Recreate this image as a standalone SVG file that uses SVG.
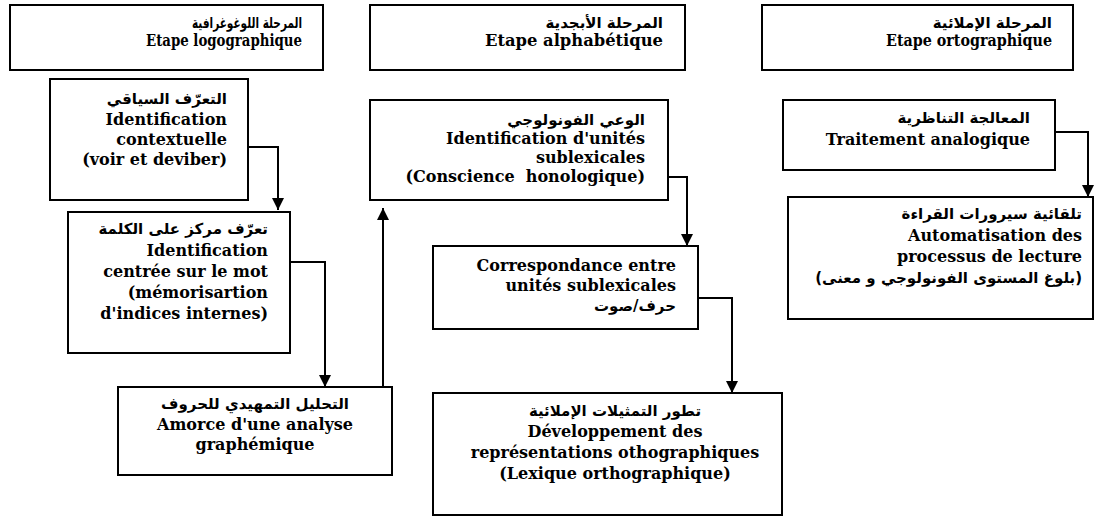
<svg xmlns="http://www.w3.org/2000/svg" width="1098" height="520" viewBox="0 0 1098 520">
<style>
.box{fill:#fff;stroke:#000;stroke-width:2}
.hd{font-family:"DejaVu Serif","Liberation Serif",serif;font-weight:bold;font-size:16px;fill:#000}
.tx{font-family:"DejaVu Serif","Liberation Serif",serif;font-weight:bold;font-size:16px;fill:#000}
.ar{font-family:"DejaVu Sans","Noto Sans",sans-serif;font-weight:bold;font-size:15px;fill:#000}
.e{text-anchor:end}
.m{text-anchor:middle}
.conn{fill:none;stroke:#000;stroke-width:2}
</style>
<defs>
<marker id="ah" markerUnits="userSpaceOnUse" markerWidth="12" markerHeight="12" refX="12" refY="6" orient="auto">
<path d="M0,0 L12,6 L0,12 z" fill="#000"/>
</marker>
</defs>
<rect width="1098" height="520" fill="#fff"/>

<g id="header-logo">
<rect class="box" x="10" y="5" width="313" height="65"/>
<text class="ar e" x="302" y="28" textLength="110" lengthAdjust="spacingAndGlyphs">المرحلة اللوغوغرافية</text>
<text class="hd e" x="302" y="46" textLength="156" lengthAdjust="spacingAndGlyphs">Etape logographique</text>
</g>
<g id="header-alpha">
<rect class="box" x="370" y="5" width="315" height="65"/>
<text class="ar e" x="663" y="28">المرحلة الأبجدية</text>
<text class="hd e" x="663" y="46" textLength="178" lengthAdjust="spacingAndGlyphs">Etape alphabétique</text>
</g>
<g id="header-ortho">
<rect class="box" x="762" y="5" width="311" height="65"/>
<text class="ar e" x="1052" y="28">المرحلة الإملائية</text>
<text class="hd e" x="1052" y="46" textLength="166" lengthAdjust="spacingAndGlyphs">Etape ortographique</text>
</g>

<g id="node-contextuelle">
<rect class="box" x="50" y="79" width="198" height="121"/>
<text class="ar e" x="227" y="104">التعرّف السياقي</text>
<text class="tx e" x="227" y="125">Identification</text>
<text class="tx e" x="227" y="145">contextuelle</text>
<text class="tx e" x="227" y="165">(voir et deviber)</text>
</g>
<g id="node-mot">
<rect class="box" x="68" y="212" width="222" height="141"/>
<text class="ar e" x="268" y="234">تعرّف مركز على الكلمة</text>
<text class="tx e" x="268" y="256">Identification</text>
<text class="tx e" x="268" y="277">centrée sur le mot</text>
<text class="tx e" x="268" y="298">(mémorisartion</text>
<text class="tx e" x="268" y="319">d'indices internes)</text>
</g>
<g id="node-graphemique">
<rect class="box" x="118" y="387" width="274" height="88"/>
<text class="ar m" x="255" y="409">التحليل التمهيدي للحروف</text>
<text class="tx m" x="255" y="430">Amorce d'une analyse</text>
<text class="tx m" x="255" y="450">graphémique</text>
</g>
<g id="node-sublexicales">
<rect class="box" x="370" y="100" width="298" height="100"/>
<text class="ar e" x="645" y="125">الوعي الفونولوجي</text>
<text class="tx e" x="645" y="144">Identification d'unités</text>
<text class="tx e" x="645" y="163">sublexicales</text>
<text class="tx e" x="645" y="182" xml:space="preserve">(Conscience  honologique)</text>
</g>
<g id="node-correspondance">
<rect class="box" x="433" y="246" width="265" height="83"/>
<text class="tx e" x="676" y="271">Correspondance entre</text>
<text class="tx e" x="676" y="291">unités sublexicales</text>
<text class="ar e" x="676" y="311">حرف/صوت</text>
</g>
<g id="node-lexique">
<rect class="box" x="433" y="393" width="349" height="122"/>
<text class="ar m" x="615" y="416">تطور التمثيلات الإملائية</text>
<text class="tx m" x="615" y="437">Développement des</text>
<text class="tx m" x="615" y="458">représentations othographiques</text>
<text class="tx m" x="615" y="479">(Lexique orthographique)</text>
</g>
<g id="node-analogique">
<rect class="box" x="783" y="100" width="272" height="70"/>
<text class="ar e" x="1030" y="123">المعالجة التناظرية</text>
<text class="tx e" x="1030" y="145">Traitement analogique</text>
</g>
<g id="node-automatisation">
<rect class="box" x="788" y="197" width="305" height="122"/>
<text class="ar e" x="1082" y="219">تلقائية سيرورات القراءة</text>
<text class="tx e" x="1082" y="241">Automatisation des</text>
<text class="tx e" x="1082" y="262">processus de lecture</text>
<text class="ar" x="1082" y="283" direction="rtl" unicode-bidi="embed" text-anchor="start">(بلوغ المستوى الفونولوجي و معنى)</text>
</g>

<g id="connectors">
<path class="conn" d="M248,147 H278 V210" marker-end="url(#ah)"/>
<path class="conn" d="M290,262 H325 V387" marker-end="url(#ah)"/>
<path class="conn" d="M383,387 V208" marker-end="url(#ah)"/>
<path class="conn" d="M668,177 H687 V246" marker-end="url(#ah)"/>
<path class="conn" d="M698,298 H732 V393" marker-end="url(#ah)"/>
<path class="conn" d="M1055,132 H1088 V197" marker-end="url(#ah)"/>
</g>
</svg>
